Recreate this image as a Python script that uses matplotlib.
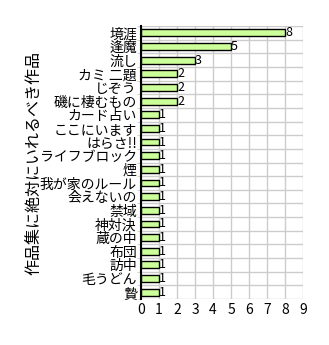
import matplotlib
matplotlib.use("Agg")
import matplotlib.pyplot as plt
import numpy as np

plt.rcParams['font.family'] = ['Noto Sans CJK JP', 'DejaVu Sans']

categories = ["境涯", "逢魔", "流し", "カミ 二題", "じぞう", "磯に棲むもの", "カード占い",
              "ここにいます", "はらさ!!", "ライフブロック", "煙", "我が家のルール", "会えないの",
              "禁域", "神対決", "蔵の中", "布団", "訪中", "毛うどん", "贄"]
values = [8, 5, 3, 2, 2, 2, 1, 1, 1, 1, 1, 1, 1, 1, 1, 1, 1, 1, 1, 1]
xticks = list(range(0, 10))
ylabel = "作品集に絶対にいれるべき作品"

fig = plt.figure(figsize=(3.29, 3.45), dpi=100)
ax = fig.add_axes([0.4286, 0.1333, 0.921 - 0.4286, 0.9246 - 0.1333])

n = len(categories)
y = np.arange(n)
ax.barh(y, values, height=0.5, color="#ccff99", edgecolor="black", linewidth=1, zorder=3)
for yi, v in zip(y, values):
    ax.text(v, yi, str(v), va="center", ha="left", fontsize=9, zorder=4)

ax.set_xlim(0, 9)
ax.set_ylim(n - 0.5, -0.5)
ax.set_xticks(xticks)
ax.set_xticklabels([str(t) for t in xticks], fontsize=10)
ax.set_yticks(y)
ax.set_yticklabels(categories, fontsize=10)
ax.set_yticks(np.arange(-0.5, n, 1), minor=True)
ax.grid(True, axis="x", color="#cccccc", linewidth=1, zorder=0)
ax.grid(True, axis="y", which="minor", color="#cccccc", linewidth=1, zorder=0)
ax.tick_params(axis="both", which="major", length=0, pad=3)
ax.tick_params(axis="y", which="minor", length=3, color="#cccccc")
for s in ["top", "right", "bottom"]:
    ax.spines[s].set_visible(False)
ax.spines["left"].set_color("black")
ax.spines["left"].set_linewidth(1.5)
ax.spines["left"].set_zorder(5)
ax.set_ylabel(ylabel, fontsize=11.5, va="center")
ax.yaxis.set_label_coords(-0.654, 0.5)

fig.savefig("out.png", dpi=100)
